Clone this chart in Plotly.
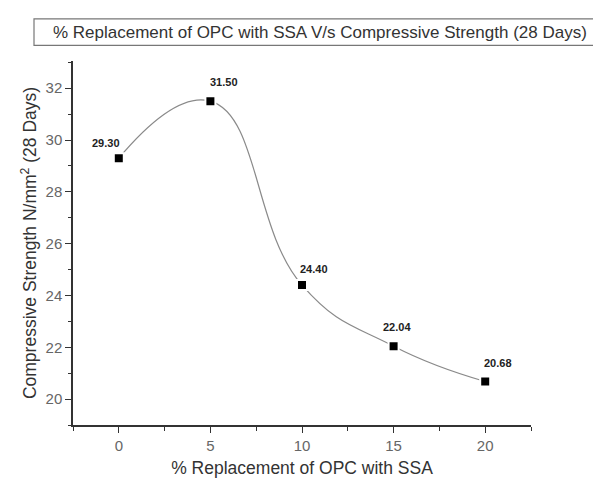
import plotly.graph_objects as go

replacement = [0, 5, 10, 15, 20]
strength = [29.30, 31.50, 24.40, 22.04, 20.68]
label_text = ["29.30", "31.50", "24.40", "22.04", "20.68"]
label_dx = [-13, 14, 12, 3, 13]
label_dy = [15, 19, 16, 19, 18]
x_ticks = [0, 5, 10, 15, 20]
y_ticks = [20, 22, 24, 26, 28, 30, 32]

fig = go.Figure()
fig.add_trace(go.Scatter(
    x=replacement, y=strength, mode="lines+markers",
    line=dict(shape="spline", smoothing=1.3, color="#8a8a8a", width=1.2),
    marker=dict(symbol="square", size=10, color="black", line=dict(color="white", width=2)),
    showlegend=False, hoverinfo="skip",
))

for x, y, t, dx, dy in zip(replacement, strength, label_text, label_dx, label_dy):
    fig.add_annotation(x=x, y=y, text="<b>" + t + "</b>", showarrow=False,
                       xshift=dx, yshift=dy,
                       font=dict(family="Liberation Sans, Arial", size=11, color="#222"))

font_family = "Liberation Sans, Arial, sans-serif"

fig.update_layout(
    width=601, height=479,
    margin=dict(l=65, r=78, t=53, b=55),
    paper_bgcolor="white", plot_bgcolor="white",
    font=dict(family=font_family, color="#444"),
    xaxis=dict(
        range=[-2.5, 22.5], tickvals=x_ticks, showgrid=False, zeroline=False,
        showline=True, linecolor="#333", linewidth=1.5,
        ticks="outside", ticklen=6, tickwidth=1.3, tickcolor="#333",
        tickfont=dict(size=15, color="#666"),
        minor=dict(dtick=2.5, tick0=-2.5, ticks="outside", ticklen=4, tickwidth=1.3, tickcolor="#333"),
        title=dict(text="% Replacement of OPC with SSA", font=dict(size=17.5, color="#333"), standoff=9),
    ),
    yaxis=dict(
        range=[19.0, 33.05], tickvals=y_ticks, showgrid=False, zeroline=False,
        showline=True, linecolor="#333", linewidth=1.5,
        ticks="outside", ticklen=6, tickwidth=1.3, tickcolor="#333",
        tickfont=dict(size=15, color="#666"),
        minor=dict(dtick=1, tick0=19, ticks="outside", ticklen=3, tickwidth=1.3, tickcolor="#333"),
        title=dict(text="Compressive Strength N/mm<sup>2</sup> (28 Days)", font=dict(size=17.5, color="#333"), standoff=4),
    ),
)

fig.add_shape(type="rect", xref="paper", yref="paper",
              x0=(26 - 65) / 458, x1=(597 - 65) / 458,
              y0=(424 - 37) / 371, y1=(424 - 10) / 371,
              line=dict(color="#777", width=1.2), fillcolor="white", layer="below")
fig.add_annotation(xref="paper", yref="paper", x=(312 - 65) / 458, y=(424 - 23.5) / 371,
                   text="% Replacement of OPC with SSA V/s Compressive Strength (28 Days)",
                   showarrow=False, xanchor="center", yanchor="middle",
                   font=dict(family=font_family, size=17, color="#333"))

fig.write_html("out.html")
